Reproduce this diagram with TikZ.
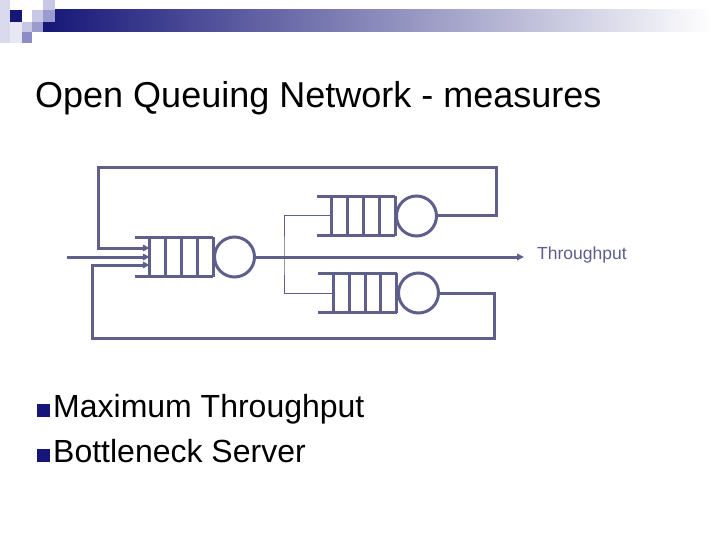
\documentclass[tikz,border=0pt]{standalone}
\usepackage{fontspec}
\setmainfont{Liberation Sans}
\usetikzlibrary{arrows.meta,calc}
\definecolor{qc}{RGB}{95,95,140}
\definecolor{navy}{RGB}{22,22,120}
\definecolor{lav1}{RGB}{200,200,230}
\definecolor{lav2}{RGB}{155,155,205}
\definecolor{lav3}{RGB}{140,140,198}
\definecolor{pale}{RGB}{218,218,238}
\definecolor{pale2}{RGB}{232,232,245}
\tikzset{
  thickline/.style={draw=qc,line width=3pt},
  thinline/.style={draw=qc,line width=1pt},
  tip/.style={-{Triangle[length=7pt,width=6.5pt]}},
  server/.style={circle,draw=qc,line width=3pt,minimum size=40pt,inner sep=0pt},
  qbox/.style={rectangle,inner sep=0pt,minimum width=63pt,minimum height=39pt},
  bullet/.style={rectangle,fill=navy,inner sep=0pt,minimum size=13pt},
}
\newcommand{\drawqueue}[1]{%
  \draw[thickline] ([xshift=-15pt]#1.north west) -- (#1.north east);
  \draw[thickline] ([xshift=-15pt]#1.south west) -- (#1.south east);
  \foreach \f in {0,0.25,0.5,0.75,1}
    \draw[thickline] ($(#1.north west)!\f!(#1.north east)$) -- ($(#1.south west)!\f!(#1.south east)$);
}
\begin{document}
\begin{tikzpicture}[x=1pt,y=-1pt]
\useasboundingbox (0,0) rectangle (720,540);
\fill[white] (0,0) rectangle (720,540);
% header decoration
\fill[pale] (0,0) rectangle (10,43);
\fill[pale2] (10,22) rectangle (22,43);
\shade[left color=navy, middle color={rgb,255:red,170;green,170;blue,192}, right color=white] (43,10) rectangle (712,32);
\fill[navy] (10,10) rectangle (22,22);
\fill[lav1] (32,10) rectangle (43,22);
\fill[lav1] (43,0) rectangle (55,10);
\fill[lav2] (43,10) rectangle (55,22);
\fill[lav1] (22,22) rectangle (32,32);
\fill[lav2] (32,22) rectangle (43,32);
\fill[lav3] (22,32) rectangle (32,43);
% title
\node[anchor=base west,inner sep=0pt,font=\fontsize{36}{40}\selectfont] (title) at (35,108) {Open Queuing Network - measures};
% queues and servers
\node[qbox] (q1) at (181.5,257) {};
\node[server] (s1) at (234.5,257) {};
\node[qbox] (q2) at (363.5,216) {};
\node[server] (s2) at (416.5,216) {};
\node[qbox] (q3) at (365,293) {};
\node[server] (s3) at (418.5,293) {};
\drawqueue{q1}
\drawqueue{q2}
\drawqueue{q3}
% connectors
\coordinate (in) at (67,257);
\coordinate (out) at (524,257);
\coordinate (sp) at (284,257);
\coordinate (fa) at (496,168);
\coordinate (fb) at (98,168);
\coordinate (ga) at (494,338);
\coordinate (gb) at (92,338);
\draw[thickline,tip] (in) -- (q1.west);
\draw[thickline,tip] (s1.east) -- (out);
\draw[thinline] (q2.west) -| (sp) |- (q3.west);
\draw[thickline,tip] (s2.east) -| (fa) -- (fb) |- ([yshift=9pt]q1.west);
\draw[thickline,tip] (s3.east) -| (ga) -- (gb) |- ([yshift=-8pt]q1.west);
\node[anchor=base west,inner sep=0pt,text=qc,font=\fontsize{17.5}{20}\selectfont] (tp) at (537,259) {Throughput};
% bullets
\node[bullet,anchor=south west] (b1) at (37,417) {};
\node[anchor=base west,inner sep=0pt,font=\fontsize{32}{36}\selectfont] (t1) at (53,417) {Maximum Throughput};
\node[bullet,anchor=south west] (b2) at (37,462) {};
\node[anchor=base west,inner sep=0pt,font=\fontsize{32}{36}\selectfont] (t2) at (53,462) {Bottleneck Server};
\end{tikzpicture}
\end{document}
